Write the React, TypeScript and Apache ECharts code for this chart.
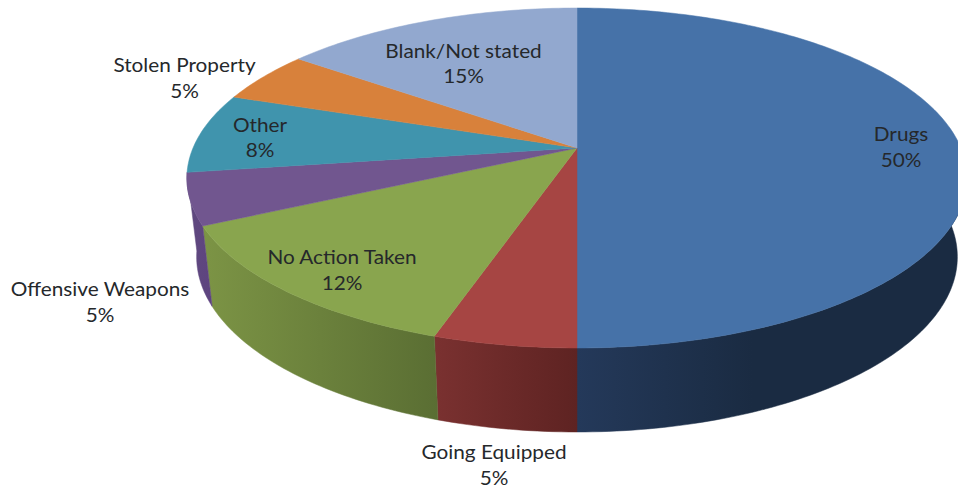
import React, { useEffect, useRef } from "react";
import * as echarts from "echarts";

// Data
const categories = ["Drugs", "Going Equipped", "No Action Taken", "Offensive Weapons", "Other", "Stolen Property", "Blank/Not stated"];
const sliceShares = [50, 5, 12.8, 4.9, 7.6, 4.9, 14.8];
const printedPercents = [50, 5, 12, 5, 8, 5, 15];

// Styles
const topColors = ["#4672A8", "#A64543", "#89A54E", "#71568F", "#4094AD", "#D8813B", "#92A8CF"];
const wallColors: string[][] = [
  ["#24395A", "#1A2B42"],
  ["#7A3130", "#5E2322"],
  ["#7C9445", "#5A6E33"],
  ["#5F4A7E", "#5E4380"],
  ["#4094AD", "#4094AD"],
  ["#D8813B", "#D8813B"],
  ["#92A8CF", "#92A8CF"],
];
const wallGradientEnds = [0.45, 1, 1, 1, 1, 1, 1];
const labelCentres = [
  [901, 146], [494, 464], [342, 269], [100, 301], [260, 136.5], [184.5, 77], [463.5, 62.5],
];

// Perspective disc
const APEX_X = 577, APEX_Y = 148, RX = 384, RY = 164.7, PERSP = 0.1765;
const WALL_Y = 226, WALL_SX = 0.975, WALL_SY = 1.03;

const total = sliceShares.reduce((a, b) => a + b, 0);
const angleAt = (index: number) =>
  (sliceShares.slice(0, index).reduce((a, b) => a + b, 0) / total) * 360;

const rimOffset = (deg: number) => {
  const t = (deg * Math.PI) / 180;
  const u = Math.sin(t), v = -Math.cos(t), w = 1 - PERSP * v;
  return [(RX * u) / w, (RY * v) / w];
};
const topPoint = (deg: number) => {
  const [dx, dy] = rimOffset(deg);
  return [APEX_X + dx, APEX_Y + dy];
};
const bottomPoint = (deg: number) => {
  const [dx, dy] = rimOffset(deg);
  return [APEX_X + dx * WALL_SX, WALL_Y + dy * WALL_SY];
};
const sweep = (a: number, b: number) => {
  const out: number[] = [];
  for (let d = a; d < b; d += 1) out.push(d);
  out.push(b);
  return out;
};

const rows = categories.map((name, i) => ({ name, value: sliceShares[i] }));

export default function App() {
  const ref = useRef<HTMLDivElement>(null);
  useEffect(() => {
    document.body.style.margin = "0";
    const chart = echarts.init(ref.current!, null, { renderer: "svg" });
    chart.setOption({
      animation: false,
      backgroundColor: "#ffffff",
      series: [
        {
          type: "custom",
          coordinateSystem: "none",
          z: 1,
          silent: true,
          data: rows,
          renderItem: (params: any) => {
            const i = params.dataIndex;
            const a = angleAt(i), b = angleAt(i + 1), mid = (a + b) / 2;
            if (mid < 90 || mid > 270) return { type: "group", children: [] };
            const arc = sweep(Math.max(a, 90), b);
            const pts = [...arc.map(topPoint), ...arc.slice().reverse().map(bottomPoint)];
            const fill = new echarts.graphic.LinearGradient(0, 0, 1, 0, [
              { offset: 0, color: wallColors[i][0] },
              { offset: wallGradientEnds[i], color: wallColors[i][1] },
              { offset: 1, color: wallColors[i][1] },
            ]);
            return {
              type: "polygon",
              shape: { points: pts },
              style: { fill, stroke: fill, lineWidth: 0.5 },
            };
          },
        },
        {
          type: "custom",
          coordinateSystem: "none",
          z: 2,
          silent: true,
          data: rows,
          renderItem: (params: any) => {
            const i = params.dataIndex;
            const pts = [[APEX_X, APEX_Y], ...sweep(angleAt(i), angleAt(i + 1)).map(topPoint)];
            return {
              type: "polygon",
              shape: { points: pts },
              style: { fill: topColors[i], stroke: topColors[i], lineWidth: 0.5 },
            };
          },
        },
        {
          type: "custom",
          coordinateSystem: "none",
          z: 3,
          silent: true,
          data: rows,
          renderItem: (params: any) => {
            const i = params.dataIndex;
            return {
              type: "text",
              x: labelCentres[i][0],
              y: labelCentres[i][1],
              scaleX: 1.06,
              style: {
                text: `${categories[i]}\n${printedPercents[i]}%`,
                fill: "#25282b",
                font: "19.6px Lato",
                lineHeight: 25.5,
                align: "center",
                verticalAlign: "middle",
              },
            };
          },
        },
      ],
    });
    return () => chart.dispose();
  }, []);
  return <div ref={ref} style={{ position: "fixed", left: 0, top: 0, width: 958, height: 489 }} />;
}
